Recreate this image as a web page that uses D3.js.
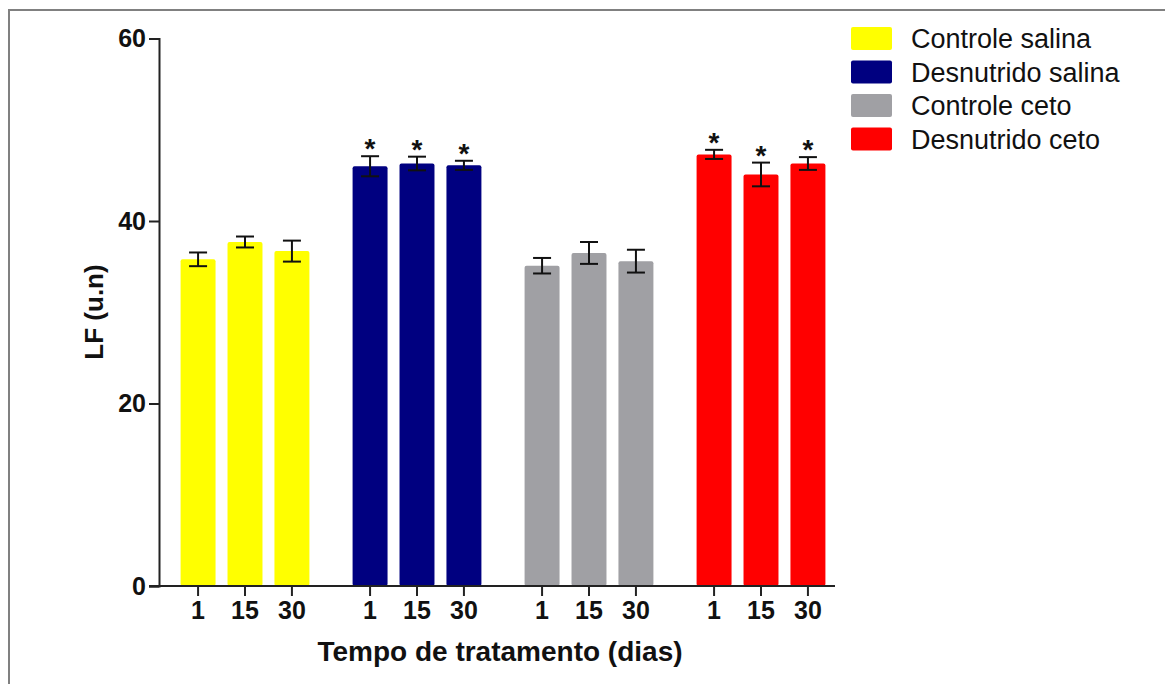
<!DOCTYPE html>
<html lang="pt">
<head>
    <meta charset="UTF-8">
    <title>LF (u.n)</title>
    <script src="https://d3js.org/d3.v7.min.js"></script>
    <style>
        body { margin: 0; background: #fff; font-family: 'Liberation Sans', Arial, sans-serif; }
        .axis path, .axis line { stroke: #222; stroke-width: 2; }
    </style>
</head>
<body>
    <svg id="chart" width="1165" height="684"></svg>
    <script>
        // dados
        const groups = ["Controle salina", "Desnutrido salina", "Controle ceto", "Desnutrido ceto"];
        const days = ["1", "15", "30"];
        const means = [
            [35.8, 37.7, 36.7],
            [46.0, 46.3, 46.1],
            [35.1, 36.5, 35.6],
            [47.3, 45.1, 46.3]
        ];
        const sems = [
            [0.75, 0.6, 1.15],
            [1.1, 0.75, 0.5],
            [0.85, 1.2, 1.25],
            [0.5, 1.3, 0.7]
        ];
        const signif = [
            [false, false, false],
            [true, true, true],
            [false, false, false],
            [true, true, true]
        ];
        const colors = ["#ffff00", "#000080", "#a0a0a4", "#ff0000"];
        const yTicks = [0, 20, 40, 60];

        const svg = d3.select("#chart");

        // moldura cinza (só topo e esquerda)
        svg.append("path")
            .attr("d", "M9,684 V10 H1165")
            .attr("fill", "none")
            .attr("stroke", "#808080")
            .attr("stroke-width", 2);

        const x0 = d3.scaleBand().domain(d3.range(groups.length)).range([159, 847]).padding(0);
        const x1 = d3.scaleBand().domain(days).range([0, x0.bandwidth()])
            .paddingInner(0.255).paddingOuter(0.46);
        const y = d3.scaleLinear().domain([0, 60]).range([586, 38.5]);

        const rows = [];
        groups.forEach((g, gi) => {
            days.forEach((d, di) => {
                rows.push({ gi, d, mean: means[gi][di], sem: sems[gi][di], star: signif[gi][di] });
            });
        });
        const cx = r => x0(r.gi) + x1(r.d) + x1.bandwidth() / 2;

        // barras
        svg.selectAll(".bar")
            .data(rows)
            .enter()
            .append("rect")
            .attr("class", "bar")
            .attr("x", r => x0(r.gi) + x1(r.d))
            .attr("y", r => y(r.mean))
            .attr("width", x1.bandwidth())
            .attr("height", r => y(0) - y(r.mean))
            .attr("rx", 2)
            .attr("fill", r => colors[r.gi]);

        // barras de erro
        const err = svg.selectAll(".err").data(rows).enter().append("g").attr("class", "err")
            .attr("stroke", "#111").attr("stroke-width", 2);
        err.append("line")
            .attr("x1", cx).attr("x2", cx)
            .attr("y1", r => y(r.mean + r.sem)).attr("y2", r => y(r.mean - r.sem));
        err.append("line")
            .attr("x1", r => cx(r) - 9).attr("x2", r => cx(r) + 9)
            .attr("y1", r => y(r.mean + r.sem)).attr("y2", r => y(r.mean + r.sem));
        err.append("line")
            .attr("x1", r => cx(r) - 9).attr("x2", r => cx(r) + 9)
            .attr("y1", r => y(r.mean - r.sem)).attr("y2", r => y(r.mean - r.sem));

        // asteriscos
        svg.selectAll(".star")
            .data(rows.filter(r => r.star))
            .enter()
            .append("text")
            .attr("class", "star")
            .attr("x", cx)
            .attr("y", r => y(r.mean + r.sem) + 2)
            .attr("text-anchor", "middle")
            .attr("font-size", 28)
            .attr("font-weight", "bold")
            .attr("fill", "#111")
            .text("*");

        // eixo y
        const ya = svg.append("g")
            .attr("class", "axis")
            .attr("transform", "translate(159,0)")
            .call(d3.axisLeft(y).tickValues(yTicks).tickSize(10).tickPadding(3));
        ya.selectAll("text")
            .attr("font-size", 25)
            .attr("font-weight", "bold")
            .attr("font-family", "'Liberation Sans', Arial, sans-serif")
            .attr("fill", "#111");

        // eixo x
        const xa = svg.append("g").attr("class", "axis");
        xa.append("line")
            .attr("x1", 149).attr("x2", 835)
            .attr("y1", y(0)).attr("y2", y(0));
        xa.selectAll(".xt")
            .data(rows)
            .enter()
            .append("line")
            .attr("x1", cx).attr("x2", cx)
            .attr("y1", y(0)).attr("y2", y(0) + 10);
        xa.selectAll(".xl")
            .data(rows)
            .enter()
            .append("text")
            .attr("x", cx)
            .attr("y", y(0) + 33)
            .attr("text-anchor", "middle")
            .attr("font-size", 25)
            .attr("font-weight", "bold")
            .attr("fill", "#111")
            .text(r => r.d);

        // títulos dos eixos
        svg.append("text")
            .attr("x", 500)
            .attr("y", 661)
            .attr("text-anchor", "middle")
            .attr("font-size", 28)
            .attr("font-weight", "bold")
            .attr("fill", "#111")
            .text("Tempo de tratamento (dias)");

        svg.append("text")
            .attr("transform", "translate(103,312) rotate(-90)")
            .attr("text-anchor", "middle")
            .attr("font-size", 26)
            .attr("font-weight", "bold")
            .attr("fill", "#111")
            .text("LF (u.n)");

        // legenda
        const leg = svg.selectAll(".leg")
            .data(groups)
            .enter()
            .append("g")
            .attr("class", "leg")
            .attr("transform", (g, i) => `translate(851,${27 + i * 33.5})`);
        leg.append("rect")
            .attr("width", 41).attr("height", 23).attr("rx", 2)
            .attr("fill", (g, i) => colors[i]);
        leg.append("text")
            .attr("x", 60)
            .attr("y", 21)
            .attr("font-size", 27)
            .attr("fill", "#111")
            .text(g => g);
    </script>
</body>
</html>
